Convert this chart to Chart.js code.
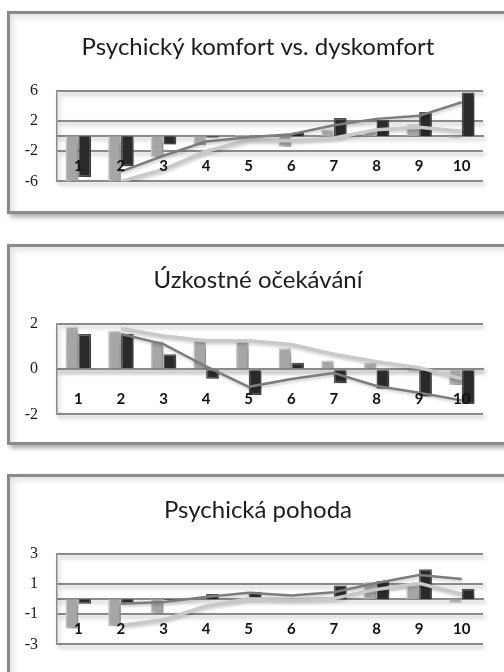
<!DOCTYPE html>
<html>
<head>
<meta charset="utf-8">
<script src="https://cdn.jsdelivr.net/npm/chart.js@4.4.0/dist/chart.umd.min.js"></script>
<style>
  html, body { margin: 0; padding: 0; background: #ffffff; width: 504px; height: 672px; overflow: hidden; position: relative; }
  .box { position: absolute; left: 7px; width: 530px; box-sizing: border-box; border: 3px solid #8a8a8a; background: #ffffff;
         box-shadow: 3px 3px 5px rgba(0,0,0,0.35), inset 3px 3px 6px rgba(0,0,0,0.12); }
  .wrap { position: absolute; left: 0; width: 504px; height: 196px; }
</style>
</head>
<body>
<div class="box" style="top:11px;height:203px"></div>
<div class="box" style="top:244px;height:201px"></div>
<div class="box" style="top:474px;height:260px"></div>
<div class="wrap" style="top:14px"><canvas id="c1"></canvas></div>
<div class="wrap" style="top:247px"><canvas id="c2"></canvas></div>
<div class="wrap" style="top:477px"><canvas id="c3"></canvas></div>
<script>
// ---- data ----
const categories = ['1', '2', '3', '4', '5', '6', '7', '8', '9', '10'];

const title1 = 'Psychický komfort vs. dyskomfort';
const ticks1 = [-6, -2, 2, 6];
const light1 = [-6.0, -6.0, -2.8, -1.2, 0.2, -1.4, 0.9, 0.8, 1.6, -0.3];
const dark1  = [-5.4, -4.0, -1.1, -0.2, 0.0, 0.5, 2.4, 2.2, 3.2, 5.8];
const lightLine1 = [null, -6.0, -4.4, -2.0, -0.5, -0.6, -0.25, 0.85, 1.2, 0.65];
const darkLine1  = [null, -4.7, -2.6, -0.7, -0.15, 0.25, 1.45, 2.3, 2.7, 4.5];

const title2 = 'Úzkostné očekávání';
const ticks2 = [-2, 0, 2];
const light2 = [1.89, 1.70, 1.24, 1.27, 1.25, 0.93, 0.38, 0.27, -0.14, -0.70];
const dark2  = [1.56, 1.56, 0.66, -0.42, -1.14, 0.28, -0.62, -0.86, -1.21, -1.54];
const lightLine2 = [null, 1.8, 1.47, 1.26, 1.26, 1.09, 0.66, 0.33, 0.07, -0.42];
const darkLine2  = [null, 1.56, 1.11, 0.12, -0.78, -0.43, -0.17, -0.74, -1.04, -1.38];

const title3 = 'Psychická pohoda';
const ticks3 = [-3, -1, 1, 3];
const light3 = [-1.94, -1.8, -0.94, 0.05, 0.02, -0.05, 0.15, 1.15, 0.94, -0.26];
const dark3  = [-0.3, -0.3, -0.06, 0.34, 0.49, 0.0, 0.91, 1.23, 1.98, 0.70];
const lightLine3 = [null, -1.75, -1.37, -0.45, 0.03, -0.02, 0.05, 0.65, 1.05, 0.34];
const darkLine3  = [null, -0.3, -0.18, 0.14, 0.42, 0.25, 0.46, 1.07, 1.6, 1.34];

// ---- styling / plugin ----
const GRID = '#8a8a8a';
const shadowPlugin = {
  id: 'shadows',
  beforeDraw(chart) {
    Object.values(chart.scales).forEach(s => {
      if (s._shadowPatched) return;
      ['drawGrid', 'drawBorder'].forEach(fn => {
        const orig = s[fn];
        s[fn] = function (a) {
          const ctx = this.ctx;
          ctx.save();
          ctx.shadowColor = 'rgba(0,0,0,0.28)';
          ctx.shadowBlur = 4; ctx.shadowOffsetX = 2; ctx.shadowOffsetY = 3;
          orig.call(this, a);
          ctx.restore();
        };
      });
      // let the tick labels extend past the narrow axis box
      s._computeLabelArea = function () { return undefined; };
      s._shadowPatched = true;
    });
  },
  beforeDatasetDraw(chart, args) {
    const ctx = chart.ctx;
    ctx.save();
    const isBar = args.meta.type === 'bar';
    ctx.shadowColor = isBar ? 'rgba(0,0,0,0.4)' : 'rgba(0,0,0,0.2)';
    ctx.shadowBlur = isBar ? 6 : 3;
    ctx.shadowOffsetX = isBar ? 3 : 1;
    ctx.shadowOffsetY = isBar ? 3 : 2;
  },
  afterDatasetDraw(chart) { chart.ctx.restore(); }
};

function makeChart(id, title, tickVals, light, dark, lightLine, darkLine) {
  const tmin = tickVals[0], tmax = tickVals[tickVals.length - 1];
  return new Chart(document.getElementById(id), {
    type: 'bar',
    data: {
      labels: categories,
      datasets: [
        { type: 'line', data: darkLine, borderColor: '#7c7c7c', borderWidth: 2.5, pointRadius: 0, tension: 0, order: 0 },
        { type: 'line', data: lightLine, borderColor: '#c9c9c9', borderWidth: 3.5, pointRadius: 0, tension: 0, order: 0 },
        { type: 'bar', data: light, backgroundColor: '#a6a6a6', borderColor: '#d0d0d0', borderWidth: 1.5, order: 1,
          categoryPercentage: 0.6, barPercentage: 1.0 },
        { type: 'bar', data: dark, backgroundColor: '#2a2a2a', borderColor: '#545454', borderWidth: 1.5, order: 1,
          categoryPercentage: 0.6, barPercentage: 1.0 }
      ]
    },
    options: {
      responsive: true,
      maintainAspectRatio: false,
      animation: false,
      events: [],
      layout: { padding: { left: 33, right: 21, top: 0, bottom: 24 } },
      plugins: {
        legend: { display: false },
        tooltip: { enabled: false },
        title: {
          display: true, text: title, color: '#1c1c1c',
          font: { family: 'Lato', size: 24, weight: 'normal', lineHeight: 1.2 },
          padding: { top: 18.5, bottom: 29.7 }
        }
      },
      scales: {
        x: {
          type: 'category',
          position: { y: 0 },
          offset: true,
          grid: { display: false, drawTicks: false },
          border: { display: true, color: GRID, width: 2 },
          ticks: { color: '#111111', font: { family: 'Lato', size: 15, weight: 'bold' }, padding: 21, z: 1, maxRotation: 0, autoSkip: false },
          afterFit: s => { s.height = 0; }
        },
        y: {
          min: tmin, max: tmax,
          afterBuildTicks: s => { s.ticks = tickVals.map(v => ({ value: v })); },
          grid: { color: GRID, lineWidth: 2, drawTicks: false },
          border: { display: true, color: GRID, width: 1.5 },
          ticks: { color: '#1a1a1a', font: { family: 'Liberation Serif', size: 16 }, padding: 19 },
          afterFit: s => { s.width = 24; }
        }
      }
    },
    plugins: [shadowPlugin]
  });
}

makeChart('c1', title1, ticks1, light1, dark1, lightLine1, darkLine1);
makeChart('c2', title2, ticks2, light2, dark2, lightLine2, darkLine2);
makeChart('c3', title3, ticks3, light3, dark3, lightLine3, darkLine3);
</script>
</body>
</html>
